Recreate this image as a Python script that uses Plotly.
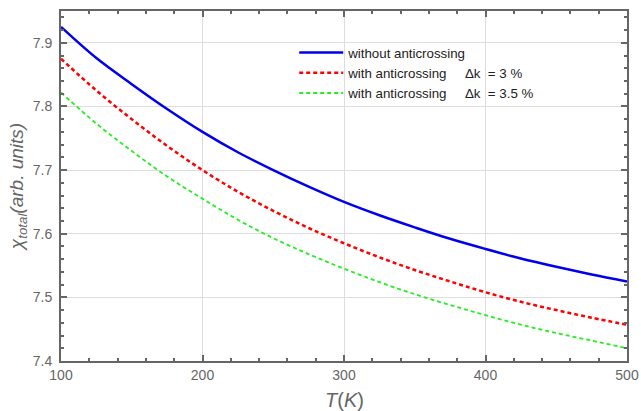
import plotly.graph_objects as go

T = [100, 125, 150, 175, 200, 225, 250, 275, 300, 325, 350, 375, 400, 425, 450, 475, 500]
chi_without = [7.925, 7.876, 7.835, 7.796, 7.760, 7.728, 7.700, 7.674, 7.650, 7.629, 7.610, 7.592,
               7.576, 7.561, 7.548, 7.536, 7.525]
chi_dk3 = [7.875, 7.825, 7.780, 7.738, 7.700, 7.666, 7.636, 7.609, 7.585, 7.563, 7.543, 7.525,
           7.508, 7.493, 7.480, 7.468, 7.457]
chi_dk35 = [7.822, 7.773, 7.730, 7.690, 7.655, 7.622, 7.593, 7.568, 7.545, 7.524, 7.505, 7.488,
            7.472, 7.457, 7.444, 7.432, 7.420]
names = ["without anticrossing",
         "with anticrossing     \u0394k  = 3 %",
         "with anticrossing     \u0394k  = 3.5 %"]
x_title = "<i>T</i>(<i>K</i>)"
y_title = "<i>\u03c7<sub>total</sub>(arb. units)</i>"

fig = go.Figure()
fig.add_trace(go.Scatter(x=T, y=chi_without, mode="lines", name=names[0],
                         line=dict(color="#0000ee", width=2.5), line_shape="spline"))
fig.add_trace(go.Scatter(x=T, y=chi_dk3, mode="lines", name=names[1],
                         line=dict(color="#ff0000", width=2.5, dash="4px,3px"), line_shape="spline"))
fig.add_trace(go.Scatter(x=T, y=chi_dk35, mode="lines", name=names[2],
                         line=dict(color="#22ee22", width=1.8, dash="4px,3px"), line_shape="spline"))

axis_common = dict(
    showline=True, linewidth=2, linecolor="#666666", mirror="allticks",
    ticks="inside", ticklen=6, tickwidth=2, tickcolor="#666666",
    showgrid=True, gridcolor="#dddddd", gridwidth=1, zeroline=False,
    automargin=False,
    tickfont=dict(family="Liberation Sans, Arial", size=14, color="#666666"),
)

fig.update_xaxes(range=[100, 500], dtick=100, tick0=100,
                 minor=dict(dtick=20, ticks="inside", ticklen=3, tickwidth=1.5, tickcolor="#666666", showgrid=False),
                 **axis_common)
fig.update_yaxes(range=[7.4, 7.95], dtick=0.1, tick0=7.4, tickformat=".1f", ticklabelstandoff=4,
                 minor=dict(dtick=0.02, ticks="inside", ticklen=3, tickwidth=1.5, tickcolor="#666666", showgrid=False),
                 title=dict(text=y_title, standoff=4,
                            font=dict(family="Liberation Sans, Arial", size=19, color="#666666")),
                 **axis_common)

fig.add_annotation(text=x_title, xref="paper", yref="paper", x=0.5, y=-0.111,
                   xanchor="center", yanchor="middle", showarrow=False,
                   font=dict(family="Liberation Sans, Arial", size=20, color="#666666"))

fig.update_layout(
    width=641, height=411,
    margin=dict(l=61, r=14, t=11, b=50),
    paper_bgcolor="white", plot_bgcolor="white",
    showlegend=True,
    legend=dict(x=0.412, y=0.925, xanchor="left", yanchor="top",
                bgcolor="rgba(0,0,0,0)", tracegroupgap=0, itemwidth=44,
                font=dict(family="Liberation Sans, Arial", size=13.3, color="#222222")),
)

# remove the page's default body margin so the figure fills the 641x411 window
fig.write_html("out.html", config={"displayModeBar": False},
               post_script="document.body.style.margin='0';document.body.style.overflow='hidden';")
